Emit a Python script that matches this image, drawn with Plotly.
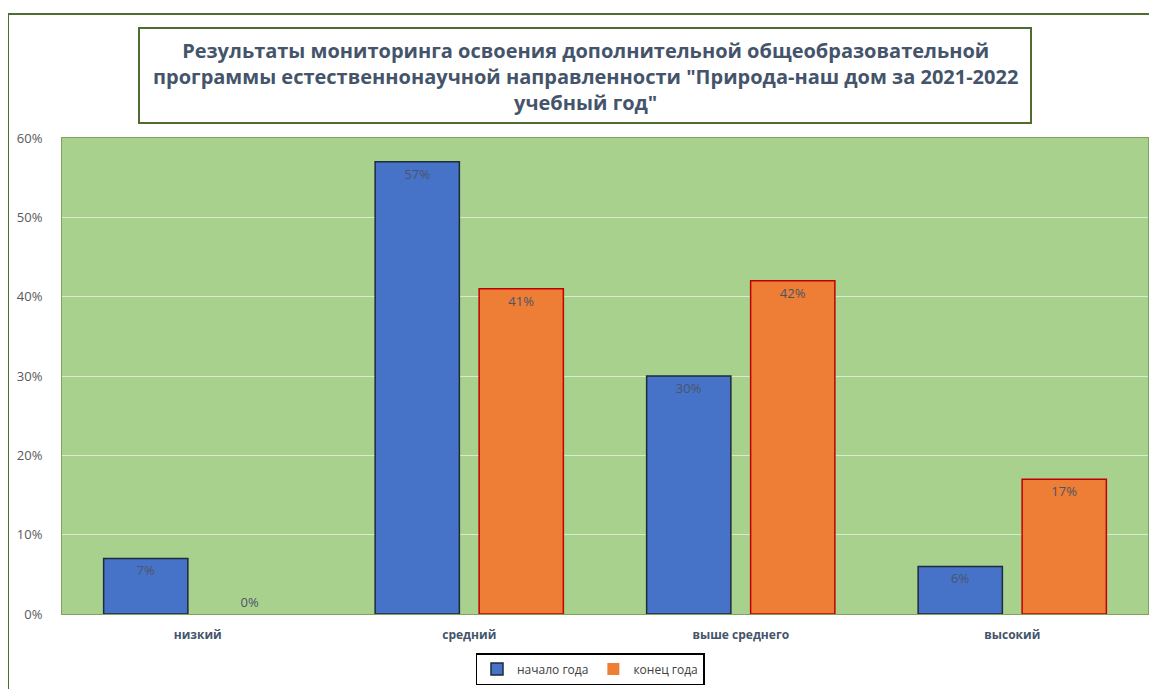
import plotly.graph_objects as go

categories = ["низкий", "средний", "выше среднего", "высокий"]
start_year = [0.07, 0.57, 0.30, 0.06]
end_year = [0.00, 0.41, 0.42, 0.17]
series_names = ["начало года", "конец года"]
title_text = ("Результаты мониторинга освоения дополнительной общеобразовательной<br>"
              "программы естественнонаучной направленности \"Природа-наш дом за 2021-2022<br>"
              "учебный год\"")

OFF = 8  # page body margin
W, H = 1157 - OFF, 689 - OFF
L, R, T, B = 62 - OFF, 9, 138 - OFF, 75
pw, ph = W - L - R, H - T - B

def px_x(x):
    return (x - OFF - L) / pw

def px_y(y):
    return 1 + (T - (y - OFF)) / ph

label_color = "#4a5568"

def labels(vals):
    return [f"{round(v*100)}%" for v in vals]

def positions(vals):
    return ["outside" if v == 0 else "inside" for v in vals]

def line_widths(vals):
    return [0 if v == 0 else 1.5 for v in vals]

fig = go.Figure()
fig.add_trace(go.Bar(
    x=categories, y=start_year, name=series_names[0],
    marker=dict(color="#4673C8", line=dict(color="#1f2a3a", width=line_widths(start_year))),
    text=labels(start_year), textposition=positions(start_year),
    insidetextanchor="end", constraintext="none",
    textfont=dict(family="Open Sans", size=13, color=label_color),
))
fig.add_trace(go.Bar(
    x=categories, y=end_year, name=series_names[1],
    marker=dict(color="#EE7D35", line=dict(color="#C00000", width=line_widths(end_year))),
    text=labels(end_year), textposition=positions(end_year),
    insidetextanchor="end", constraintext="none",
    textfont=dict(family="Open Sans", size=13, color=label_color),
))

fig.update_layout(
    width=W, height=H,
    margin=dict(l=L, r=R, t=T, b=B, pad=0, autoexpand=False),
    paper_bgcolor="white",
    plot_bgcolor="#A9D18E",
    barmode="group", bargap=0.234, bargroupgap=0.19,
    font=dict(family="Open Sans", color="#595959"),
    showlegend=True,
    legend=dict(
        orientation="h", x=px_x(590), y=px_y(669), xanchor="center", yanchor="middle",
        bordercolor="black", borderwidth=1.5, bgcolor="white",
        font=dict(family="Open Sans", size=12, color="#404040"),
        itemwidth=30, traceorder="normal",
    ),
    xaxis=dict(
        showgrid=False, showline=True, linecolor="#7fa35e", linewidth=1, mirror=True,
        tickfont=dict(family="Open Sans", size=12, color="#44546A", weight="bold"),
        ticks="", ticklabelstandoff=10, automargin=False,
    ),
    yaxis=dict(
        range=[0, 0.6], dtick=0.1, tickformat=".0%",
        showgrid=True, gridcolor="#dbe9d0", gridwidth=1,
        showline=True, linecolor="#7fa35e", linewidth=1, mirror=True,
        zeroline=False,
        tickfont=dict(family="Open Sans", size=13, color="#595959"),
        ticks="", ticklabelstandoff=16, automargin=False,
    ),
)

fig.add_shape(type="rect", xref="paper", yref="paper",
              x0=px_x(8), x1=px_x(1175), y0=px_y(705), y1=px_y(14),
              line=dict(color="#4E6B30", width=2), fillcolor="rgba(0,0,0,0)", layer="below")
fig.add_shape(type="rect", xref="paper", yref="paper",
              x0=px_x(139), x1=px_x(1031), y0=px_y(123), y1=px_y(28),
              line=dict(color="#4E6B30", width=2), fillcolor="white")
fig.add_annotation(
    xref="paper", yref="paper", x=px_x(585), y=px_y(76),
    text=title_text, showarrow=False, xanchor="center", yanchor="middle",
    font=dict(family="Open Sans", size=20, color="#44546A", weight="bold"),
    align="center",
)

fig.write_html("out.html")
